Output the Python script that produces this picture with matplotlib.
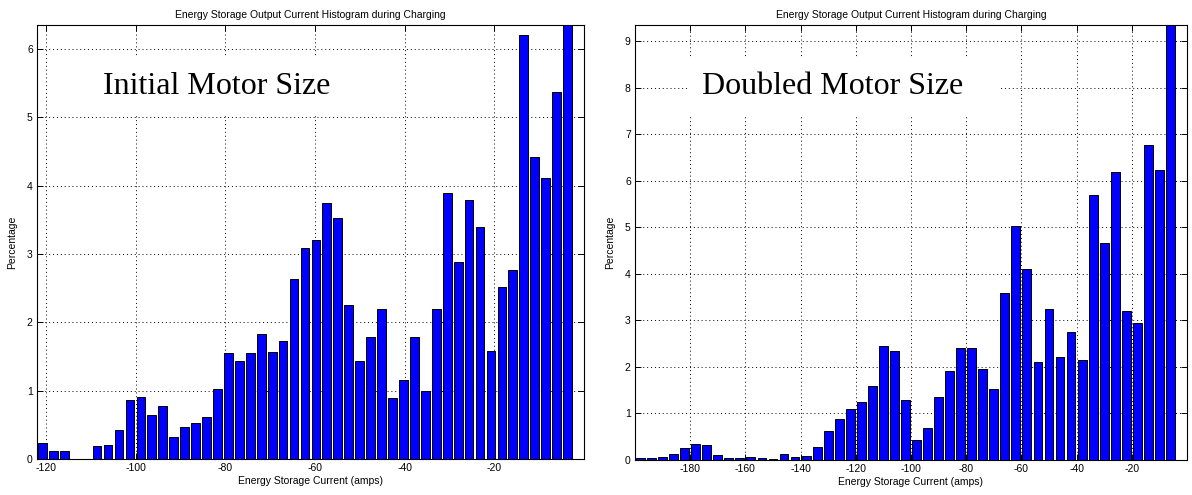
import matplotlib
matplotlib.use("Agg")
import matplotlib.pyplot as plt
import numpy as np

TITLE = "Energy Storage Output Current Histogram during Charging"
XLABEL = "Energy Storage Current (amps)"
YLABEL = "Percentage"

# initial motor size: 50 bins over [-122, 0]
left_range = (-122, 0)
left_pct = [0.24, 0.12, 0.12, 0.0, 0.0, 0.185, 0.20, 0.42, 0.87, 0.91,
            0.65, 0.78, 0.32, 0.47, 0.52, 0.61, 1.03, 1.545, 1.44, 1.545,
            1.83, 1.56, 1.725, 2.63, 3.09, 3.21, 3.74, 3.53, 2.25, 1.43,
            1.79, 2.19, 0.89, 1.16, 1.79, 0.99, 2.20, 3.89, 2.88, 3.79,
            3.39, 1.58, 2.52, 2.76, 6.21, 4.42, 4.11, 5.37, 6.6, 0.0]
left_xticks = [-120, -100, -80, -60, -40, -20]
left_yticks = [0, 1, 2, 3, 4, 5, 6]

# doubled motor size: 50 bins over [-200, 0]
right_range = (-200, 0)
right_pct = [0.05, 0.05, 0.07, 0.13, 0.25, 0.35, 0.32, 0.10, 0.04, 0.04,
             0.06, 0.04, 0.03, 0.12, 0.06, 0.08, 0.28, 0.62, 0.89, 1.10,
             1.25, 1.60, 2.46, 2.34, 1.29, 0.44, 0.68, 1.36, 1.91, 2.41,
             2.41, 1.96, 1.52, 3.58, 5.04, 4.11, 2.11, 3.24, 2.22, 2.76,
             2.16, 5.70, 4.66, 6.20, 3.20, 2.94, 6.78, 6.23, 9.8, 0.0]
right_xticks = [-180, -160, -140, -120, -100, -80, -60, -40, -20]
right_yticks = [0, 1, 2, 3, 4, 5, 6, 7, 8, 9]

plt.rcParams['font.family'] = ['Liberation Sans', 'DejaVu Sans']
plt.rcParams['axes.unicode_minus'] = False

fig = plt.figure(figsize=(11.92, 4.95), dpi=100)


def draw(ax, rng, pct, xticks, yticks, ytop, note):
    edges = np.linspace(rng[0], rng[1], len(pct) + 1)
    centres = (edges[:-1] + edges[1:]) / 2
    step = edges[1] - edges[0]
    ax.bar(centres, pct, width=0.8 * step, color='#0000ff',
           edgecolor='black', linewidth=0.7, zorder=2)
    ax.set_xlim(rng)
    ax.set_ylim(0, ytop)
    ax.set_xticks(xticks)
    ax.set_yticks(yticks)
    ax.grid(True, linestyle=(0, (1, 3)), color='black', linewidth=0.7, zorder=0)
    ax.set_axisbelow(True)
    ax.tick_params(direction='in', length=4, width=0.7, labelsize=7.5,
                   top=True, right=True, pad=3)
    for s in ax.spines.values():
        s.set_linewidth(0.8)
    ax.set_title(TITLE, fontsize=7.5, pad=5)
    ax.set_xlabel(XLABEL, fontsize=7.5, labelpad=2)
    ax.set_ylabel(YLABEL, fontsize=7.5, labelpad=7)
    ax.text(0.121, 0.841, note + "   ", transform=ax.transAxes, ha='left',
            va='baseline', fontsize=23, family='Liberation Serif', zorder=5,
            bbox=dict(boxstyle='square,pad=0.45', facecolor='white',
                      edgecolor='none'))


ax1 = fig.add_axes([0.0310, 0.0727, 0.4589, 0.8768])
draw(ax1, left_range, left_pct, left_xticks, left_yticks, 6.35,
     "Initial Motor Size")

ax2 = fig.add_axes([0.5327, 0.0707, 0.4631, 0.8788])
draw(ax2, right_range, right_pct, right_xticks, right_yticks, 9.35,
     "Doubled Motor Size")

fig.savefig("out.png", dpi=100, facecolor='white')
